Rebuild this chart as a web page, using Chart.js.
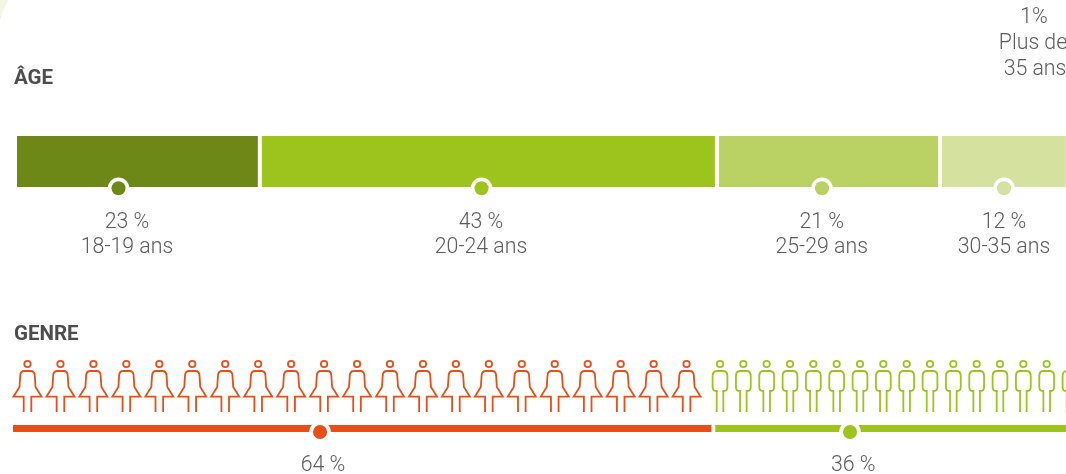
<!DOCTYPE html>
<html lang="fr">
<head>
<meta charset="utf-8">
<style>
html,body{margin:0;padding:0;background:#fff;overflow:hidden}
#wrap{position:relative;width:1066px;height:474px}
canvas{position:absolute;left:0;top:0}
</style>
<script src="https://cdn.jsdelivr.net/npm/chart.js@4"></script>
</head>
<body>
<div id="wrap">
<canvas id="age" width="1066" height="474"></canvas>
<canvas id="genre" width="1066" height="474"></canvas>
</div>
<script>
const ageCategories = ["18-19 ans", "20-24 ans", "25-29 ans", "30-35 ans", "Plus de 35 ans"];
const ageValues = [23, 43, 21, 12, 1];
const genreCategories = ["Femmes", "Hommes"];
const genreValues = [64, 36];
const womenIconCount = 21;
const menIconCount = 16;

const ageColors = ["#6e8817", "#9dc41d", "#bad263", "#d5e19f", "#e8eecb"];
const genreColors = ["#e84e17", "#9dc41d"];
const ageMarkerAt = [9.55, 43.7, 75.73, 92.85];
const ageLabelAt = [10.35, 43.65, 75.7, 92.85];
const genreMarkerAt = [27.99, 76.3];
const genreLabelAt = [28.26, 76.6];
const TEXT = "#5c5c5c", TITLE = "#4d4d4d";
const LABEL_FONT = '300 21.3px Roboto', TITLE_FONT = 'bold 20.5px Roboto';

function label(ctx, s, x, y, font, color, align) {
  ctx.font = font; ctx.fillStyle = color;
  ctx.textAlign = align || "center"; ctx.textBaseline = "middle";
  ctx.fillText(s, x, y);
}
function marker(ctx, x, y, color) {
  ctx.beginPath(); ctx.arc(x, y, 10.8, 0, Math.PI * 2); ctx.fillStyle = "#fff"; ctx.fill();
  ctx.beginPath(); ctx.arc(x, y, 7, 0, Math.PI * 2); ctx.fillStyle = color; ctx.fill();
}
function woman(ctx, x) {
  ctx.beginPath(); ctx.arc(x, 364, 3.2, 0, Math.PI * 2); ctx.stroke();
  ctx.beginPath();
  ctx.moveTo(x - 3.8, 412); ctx.lineTo(x - 3.8, 396.6); ctx.lineTo(x - 14, 396.6);
  ctx.lineTo(x - 8, 387); ctx.lineTo(x - 7.3, 376);
  ctx.quadraticCurveTo(x - 7.2, 371, x - 3, 371); ctx.lineTo(x + 3, 371);
  ctx.quadraticCurveTo(x + 7.2, 371, x + 7.3, 376); ctx.lineTo(x + 8, 387);
  ctx.lineTo(x + 14, 396.6); ctx.lineTo(x + 3.8, 396.6); ctx.lineTo(x + 3.8, 412);
  ctx.stroke();
}
function man(ctx, x) {
  ctx.beginPath(); ctx.arc(x, 364, 3.2, 0, Math.PI * 2); ctx.stroke();
  ctx.beginPath();
  ctx.moveTo(x - 3.3, 412); ctx.lineTo(x - 3.3, 391); ctx.lineTo(x - 4, 391);
  ctx.quadraticCurveTo(x - 7.4, 391, x - 7.4, 387); ctx.lineTo(x - 7.4, 376);
  ctx.quadraticCurveTo(x - 7.4, 371, x - 3, 371); ctx.lineTo(x + 3, 371);
  ctx.quadraticCurveTo(x + 7.4, 371, x + 7.4, 376); ctx.lineTo(x + 7.4, 387);
  ctx.quadraticCurveTo(x + 7.4, 391, x + 4, 391); ctx.lineTo(x + 3.3, 391);
  ctx.lineTo(x + 3.3, 412);
  ctx.stroke();
}

const agePlugin = {
  id: "ageDecor",
  afterDraw(chart) {
    const ctx = chart.ctx, sx = chart.scales.x;
    ctx.save();
    ctx.beginPath(); ctx.moveTo(0, 0); ctx.lineTo(8.5, 0); ctx.quadraticCurveTo(3, 9, 0, 20); ctx.closePath();
    ctx.fillStyle = "#f2f6e4"; ctx.fill();
    label(ctx, "ÂGE", 14, 79, TITLE_FONT, TITLE, "left");
    ageMarkerAt.forEach((v, i) => marker(ctx, sx.getPixelForValue(v), 188.3, ageColors[i]));
    ageLabelAt.forEach((v, i) => {
      const x = sx.getPixelForValue(v);
      label(ctx, ageValues[i] + " %", x, 222.5, LABEL_FONT, TEXT);
      label(ctx, ageCategories[i], x, 247.5, LABEL_FONT, TEXT);
    });
    label(ctx, ageValues[4] + "%", 1034, 18, LABEL_FONT, TEXT);
    label(ctx, "Plus de", 1033, 44, LABEL_FONT, TEXT);
    label(ctx, "35 ans", 1035, 70, LABEL_FONT, TEXT);
    ctx.restore();
  }
};
const genrePlugin = {
  id: "genreDecor",
  afterDraw(chart) {
    const ctx = chart.ctx, sx = chart.scales.x;
    ctx.save();
    label(ctx, "GENRE", 14, 335, TITLE_FONT, TITLE, "left");
    ctx.lineWidth = 1.8;
    ctx.strokeStyle = genreColors[0];
    for (let i = 0; i < womenIconCount; i++) woman(ctx, sx.getPixelForValue(1.322 + 3.004 * i));
    ctx.strokeStyle = genreColors[1];
    for (let i = 0; i < menIconCount; i++) man(ctx, sx.getPixelForValue(64.45 + 2.127 * i));
    genreMarkerAt.forEach((v, i) => marker(ctx, sx.getPixelForValue(v), 432, genreColors[i]));
    genreLabelAt.forEach((v, i) => label(ctx, genreValues[i] + " %", sx.getPixelForValue(v), 465.5, LABEL_FONT, TEXT));
    ctx.restore();
  }
};

function stacked(id, cats, vals, colors, max, padding, plugin) {
  return new Chart(document.getElementById(id), {
    type: "bar",
    data: {
      labels: [""],
      datasets: vals.map((v, i) => ({
        label: cats[i], data: [v], backgroundColor: colors[i],
        borderColor: "#ffffff", borderSkipped: false,
        borderWidth: { top: 0, left: 0, bottom: 0, right: 4 },
        barPercentage: 1, categoryPercentage: 1
      }))
    },
    options: {
      indexAxis: "y", responsive: false, animation: false,
      layout: { padding },
      plugins: { legend: { display: false }, tooltip: { enabled: false } },
      scales: {
        x: { stacked: true, min: 0, max, display: false },
        y: { stacked: true, display: false }
      }
    },
    plugins: [plugin]
  });
}
stacked("age", ageCategories, ageValues, ageColors, 98.68, { left: 17, right: 0, top: 136, bottom: 287 }, agePlugin);
stacked("genre", genreCategories, genreValues, genreColors, 95.99, { left: 13, right: 0, top: 425, bottom: 42 }, genrePlugin);
</script>
</body>
</html>
